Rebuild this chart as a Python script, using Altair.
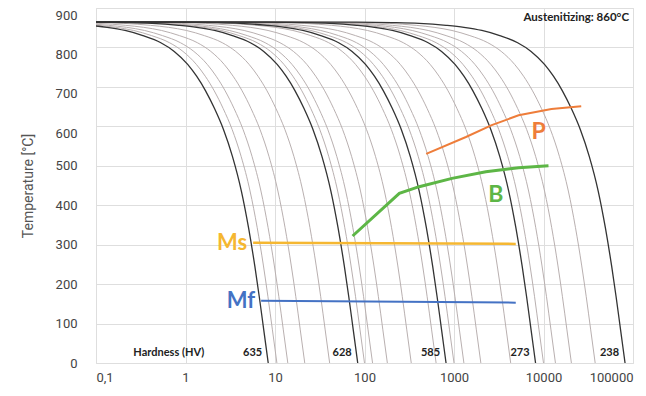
import altair as alt
import pandas as pd

# Cooling curves: time (s) at which each curve reaches 0 °C
DARK_END = [8.4, 84, 815, 8150, 81500]
GRAY_END = [10.5, 13.9, 21.5, 40.8, 100, 123, 180, 333, 631,
            1000, 1290, 1995, 4300, 10000, 13600, 20500, 37800]
HARDNESS = ["635", "628", "585", "273", "238"]

# Shape of one cooling curve:
# decades before its end time, and temperature (°C)
SHAPE_DLOG = [-7.5, -3.0, -2.6, -2.3, -2.0, -1.8, -1.6, -1.4, -1.2, -1.05,
              -0.9, -0.8, -0.7, -0.6, -0.5, -0.4, -0.3, -0.22, -0.15,
              -0.1, -0.05, 0.0]
SHAPE_T = [865, 864, 863, 861, 856, 851, 843, 830, 812, 790,
           757, 727, 690, 645, 592, 524, 436, 343, 246,
           168, 84, 0]

MS_TIME = [5.7, 4900]
MS_TEMP = [305, 302]
MF_TIME = [7.0, 4900]
MF_TEMP = [158, 153]
B_TIME = [73.6, 245, 408, 950, 2270, 5270, 11370]
B_TEMP = [322, 430, 447, 468, 485, 495, 500]
P_TIME = [489, 1360, 2640, 5270, 12270, 26400]
P_TEMP = [530, 573, 603, 628, 644, 651]

X_TICKS = [0.1, 1, 10, 100, 1000, 10000, 100000]
Y_TICKS = [0, 100, 200, 300, 400, 500, 600, 700, 800, 900]


def curves(ends, prefix):
    rows = []
    for i, e in enumerate(ends):
        for d, T in zip(SHAPE_DLOG, SHAPE_T):
            rows.append({"id": f"{prefix}{i}", "t": e * 10 ** d, "T": T})
    return pd.DataFrame(rows)


xs = alt.Scale(type="log", domain=[0.1, 100000], nice=False)
ys = alt.Scale(domain=[0, 900], nice=False)

X = alt.X("t:Q", scale=xs, title=None,
          axis=alt.Axis(values=X_TICKS, grid=True, ticks=False, domain=False,
                        labelExpr="datum.value < 1 ? '0,1' : format(datum.value, 'd')",
                        labelPadding=8, labelFontSize=13, labelColor="#444",
                        labelFont="Roboto", gridColor="#dedede", labelFlush=True))
Y = alt.Y("T:Q", scale=ys, title="Temperature [°C]",
          axis=alt.Axis(values=Y_TICKS, grid=True, ticks=False, domain=False,
                        labelPadding=19, labelFontSize=13, labelColor="#444",
                        labelFont="Roboto", gridColor="#dedede",
                        labelOffset={"condition": {"test": "datum.value >= 600", "value": 7},
                                     "value": 0},
                        titleFont="Roboto", titleFontSize=14, titleFontWeight="normal",
                        titleColor="#555", titlePadding=20))

gray = alt.Chart(curves(GRAY_END, "g")).mark_line(
    color="#b9b0b0", strokeWidth=1, clip=True, interpolate="monotone"
).encode(x=X, y=Y, detail="id:N")

dark = alt.Chart(curves(DARK_END, "d")).mark_line(
    color="#333333", strokeWidth=1.3, clip=True, interpolate="monotone"
).encode(x=X, y=Y, detail="id:N")


def seg(times, temps, color, width):
    df = pd.DataFrame({"t": times, "T": temps})
    return alt.Chart(df).mark_line(color=color, strokeWidth=width).encode(x=X, y=Y)


MS_C = "#F5B731"
MF_C = "#4472C4"
B_C = "#5DB646"
P_C = "#EE7D3A"

ms = seg(MS_TIME, MS_TEMP, MS_C, 2.5)
mf = seg(MF_TIME, MF_TEMP, MF_C, 2)
bl = seg(B_TIME, B_TEMP, B_C, 3)
pl = seg(P_TIME, P_TEMP, P_C, 2)

lab_df = pd.DataFrame({
    "t": [MS_TIME[0], MF_TIME[0]],
    "T": [MS_TEMP[0], MF_TEMP[0]],
    "txt": ["Ms", "Mf"],
    "c": [MS_C, MF_C],
})
ml = alt.Chart(lab_df).mark_text(
    align="right", baseline="middle", dx=-6, fontSize=22, fontWeight="bold", font="Lato"
).encode(x=X, y=Y, text="txt:N", color=alt.Color("c:N", scale=None))

bp_df = pd.DataFrame({"t": [2930, 8800], "T": [427, 586], "txt": ["B", "P"], "c": [B_C, P_C]})
bp = alt.Chart(bp_df).mark_text(
    align="center", baseline="middle", fontSize=23, fontWeight="bold", font="Lato"
).encode(x=X, y=Y, text="txt:N", color=alt.Color("c:N", scale=None))

hv_df = pd.DataFrame({"t": DARK_END, "T": [25] * len(DARK_END), "txt": HARDNESS})
hv = alt.Chart(hv_df).mark_text(
    align="right", baseline="middle", dx=-6, fontSize=11, fontWeight="bold",
    font="Lato", color="#222"
).encode(x=X, y=Y, text="txt:N")

hh = alt.Chart(pd.DataFrame({"t": [0.65], "T": [25], "txt": ["Hardness (HV)"]})).mark_text(
    align="center", baseline="middle", fontSize=11, fontWeight="bold",
    font="Lato", color="#222"
).encode(x=X, y=Y, text="txt:N")

au = alt.Chart(pd.DataFrame({"t": [100000], "T": [875], "txt": ["Austenitizing: 860°C"]})).mark_text(
    align="right", baseline="middle", dx=-4, fontSize=11.5, fontWeight="bold",
    font="Lato", color="#222"
).encode(x=X, y=Y, text="txt:N")

chart = alt.layer(gray, dark, ms, mf, bl, pl, ml, bp, hv, hh, au).properties(
    width=537, height=355,
    autosize=alt.AutoSizeParams(type="none"),
    padding={"left": 88, "top": 0, "right": 5, "bottom": 25},
).configure_view(stroke="#dedede", strokeWidth=1).configure(background="white")

chart.save("out.html", embed_options={"renderer": "svg", "actions": False})
